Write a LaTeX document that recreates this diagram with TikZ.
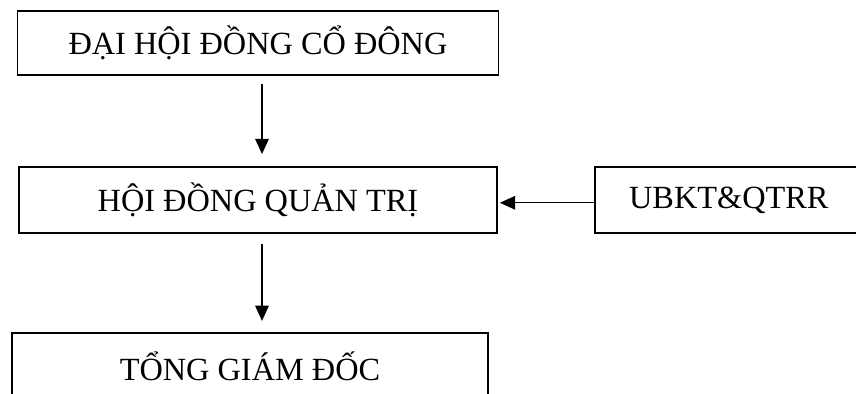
\documentclass[tikz,border=0pt]{standalone}
\usepackage{fontspec}
\setmainfont{Liberation Serif}
\usetikzlibrary{arrows.meta}

\tikzset{
	khoi/.style={draw, line width=1.3pt, inner sep=0pt, minimum height=1.65cm, font=\fontsize{23}{27}\selectfont},
	mui/.style={line width=0.9pt, -{Triangle[length=3.8mm,width=3.4mm]}}
}

\begin{document}
\begin{tikzpicture}
			%%%%% START %%%%%
			\clip (0, 0) rectangle (21.4, 9.85);
			
			\node[khoi, minimum width=12.025cm, minimum height=1.6cm] (dhdcd) at (6.45, 8.775) {ĐẠI HỘI ĐỒNG CỔ ĐÔNG};
			\node[khoi, minimum width=11.95cm] (hdqt) at (6.45, 4.85) {HỘI ĐỒNG QUẢN TRỊ};
			\node[khoi, minimum width=6.7cm] (ubkt) at (18.22, 4.85) {UBKT\&QTRR};
			\node[khoi, minimum width=11.9cm] (tgd) at (6.25, 0.7) {TỔNG GIÁM ĐỐC};
			
			\draw[mui, shorten <=0.2cm, shorten >=0.3cm] ([xshift=0.1cm]dhdcd.south) -- ([xshift=0.1cm]dhdcd.south |- hdqt.north);
			\draw[mui, shorten <=0.25cm, shorten >=0.28cm] ([xshift=0.1cm]hdqt.south) -- ([xshift=0.1cm]hdqt.south |- tgd.north);
			\draw[mui, shorten >=0.05cm] ([yshift=-0.07cm]ubkt.west) -- ([yshift=-0.07cm]hdqt.east);
			%%%%% END %%%%%
\end{tikzpicture}
\end{document}
